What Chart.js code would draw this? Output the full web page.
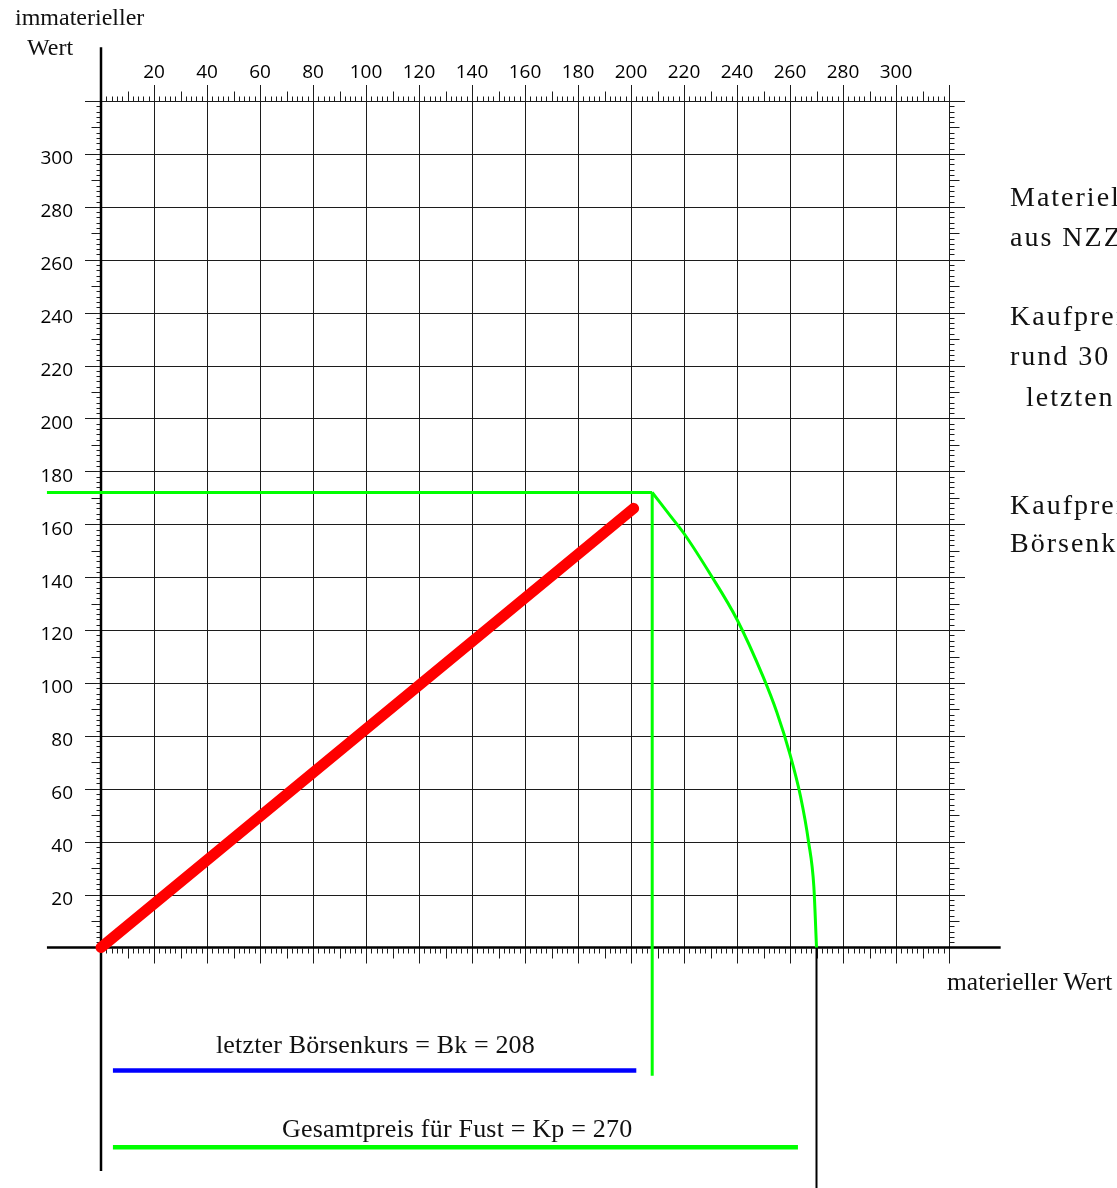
<!DOCTYPE html>
<html>
<head>
<meta charset="utf-8">
<script src="https://cdn.jsdelivr.net/npm/chart.js@4.4.1/dist/chart.umd.min.js"></script>
<style>
  html, body { margin: 0; padding: 0; background: #fff; overflow: hidden; }
  #wrap { position: relative; width: 1117px; height: 1188px; overflow: hidden; }
  #wrap canvas { position: absolute; left: 0; top: 0; }
  .t { position: absolute; font-family: "Liberation Serif", serif; color: #111; line-height: 1; white-space: nowrap; }
  .note { font-size: 28px; letter-spacing: 2px; }
</style>
</head>
<body>
<div id="wrap">
  <canvas id="chart" width="1117" height="1188"></canvas>

  <div class="t" style="left:15px; top:5px; font-size:24px">immaterieller</div>
  <div class="t" style="left:27px; top:35px; font-size:24px">Wert</div>
  <div class="t" style="left:947px; top:969px; font-size:25.5px">materieller Wert</div>

  <div class="t" style="left:216px; top:1032px; font-size:26px; letter-spacing:0.15px">letzter Börsenkurs = Bk = 208</div>
  <div class="t" style="left:282px; top:1116px; font-size:26px; letter-spacing:0.2px">Gesamtpreis für Fust = Kp = 270</div>

  <div class="t note" style="left:1010px; top:183px">Materieller Wert</div>
  <div class="t note" style="left:1010px; top:223px">aus NZZ</div>
  <div class="t note" style="left:1010px; top:302px">Kaufpreis liegt</div>
  <div class="t note" style="left:1010px; top:342px">rund 30 % über dem</div>
  <div class="t note" style="left:1026px; top:383px">letzten Börsenkurs</div>
  <div class="t note" style="left:1010px; top:491px">Kaufpreis = 1,3 ×</div>
  <div class="t note" style="left:1010px; top:529px">Börsenkurs</div>
</div>

<script>
// ---------------------------------------------------------------------
// Values (materieller Wert = x, immaterieller Wert = y)
// ---------------------------------------------------------------------
const xTickLabels = [20, 40, 60, 80, 100, 120, 140, 160, 180, 200, 220, 240, 260, 280, 300];
const yTickLabels = [20, 40, 60, 80, 100, 120, 140, 160, 180, 200, 220, 240, 260, 280, 300];
const gridValues = [20, 40, 60, 80, 100, 120, 140, 160, 180, 200, 220, 240, 260, 280, 300, 320];

// red diagonal
const redX = [0, 201];
const redY = [0, 166];

// green: horizontal at 172, drop at Bk = 208, arc down to Kp = 270
const levelX = [-20.4, 208];
const levelY = [172, 172];
const bkDropX = [208, 208];
const bkDropY = [172, -48.5];
const arcX = [208, 215, 220, 230, 240, 250, 255, 260, 264, 267, 269, 270];
const arcY = [172, 163, 156.5, 141, 124, 102, 89, 73, 57, 40, 23, 0];

// black drop at Kp = 270
const kpDropX = [270, 270];
const kpDropY = [0, -92];

// bars under the axis
const bkBarX = [4.5, 202];
const bkBarY = [-46.5, -46.5];
const kpBarX = [4.5, 263];
const kpBarY = [-75.5, -75.5];

const pts = (xs, ys) => xs.map((x, i) => ({ x: x, y: ys[i] }));

// ---------------------------------------------------------------------
// Grid, minor ticks and the two heavy axes
// ---------------------------------------------------------------------
const frame = {
  id: "frame",
  beforeDatasetsDraw(chart) {
    const { ctx, chartArea: a } = chart;
    const xs = chart.scales.x, ys = chart.scales.y;
    const px = (v) => Math.round(xs.getPixelForValue(v)) + 0.5;
    const py = (v) => Math.round(ys.getPixelForValue(v)) + 0.5;
    ctx.save();
    ctx.strokeStyle = "#1c1c1c";
    ctx.lineWidth = 1;

    ctx.beginPath();
    gridValues.forEach((v) => {
      ctx.moveTo(px(v), a.top - 16);
      ctx.lineTo(px(v), a.bottom + 16);
      ctx.moveTo(a.left - 16, py(v));
      ctx.lineTo(a.right + 16, py(v));
    });
    ctx.stroke();

    // small ticks every 2, longer every 10, all pointing outwards
    ctx.beginPath();
    const top = py(320), bot = py(0), left = px(0), right = px(320);
    for (let v = 2; v < 320; v += 2) {
      if (v % 20 === 0) continue;
      const len = v % 10 === 0 ? 10 : 5;
      const X = px(v), Y = py(v);
      ctx.moveTo(X, top); ctx.lineTo(X, top - len);
      ctx.moveTo(X, bot); ctx.lineTo(X, bot + len);
      ctx.moveTo(left, Y); ctx.lineTo(left - len, Y);
      ctx.moveTo(right, Y); ctx.lineTo(right + len, Y);
    }
    ctx.stroke();

    ctx.strokeStyle = "#000";
    ctx.lineWidth = 2.5;
    ctx.beginPath();
    ctx.moveTo(xs.getPixelForValue(0), ys.getPixelForValue(340.3));
    ctx.lineTo(xs.getPixelForValue(0), ys.getPixelForValue(-84.5));
    ctx.moveTo(xs.getPixelForValue(-20.4), ys.getPixelForValue(0));
    ctx.lineTo(xs.getPixelForValue(339.5), ys.getPixelForValue(0));
    ctx.stroke();
    ctx.restore();
  }
};

const tickFont = { family: "'Open Sans', sans-serif", size: 19 };

new Chart(document.getElementById("chart"), {
  type: "line",
  data: {
    datasets: [
      { data: pts(redX, redY), borderColor: "#ff0000", borderWidth: 11, borderCapStyle: "round" },
      { data: pts(levelX, levelY), borderColor: "#00ff00", borderWidth: 3 },
      { data: pts(bkDropX, bkDropY), borderColor: "#00ff00", borderWidth: 3 },
      { data: pts(arcX, arcY), borderColor: "#00ff00", borderWidth: 3, cubicInterpolationMode: "monotone" },
      { data: pts(kpDropX, kpDropY), borderColor: "#000", borderWidth: 2 },
      { data: pts(bkBarX, bkBarY), borderColor: "#0000ff", borderWidth: 4.5 },
      { data: pts(kpBarX, kpBarY), borderColor: "#00ff00", borderWidth: 4.5 }
    ].map((d) => Object.assign({ clip: false, fill: false, pointRadius: 0, tension: 0 }, d))
  },
  options: {
    responsive: false,
    animation: false,
    layout: { padding: { left: 0, top: 0, right: 168, bottom: 240.5 } },
    plugins: { legend: { display: false }, tooltip: { enabled: false } },
    scales: {
      x: {
        type: "linear",
        position: "top",
        min: 0,
        max: 320,
        grid: { display: false, drawTicks: false },
        border: { display: false },
        afterBuildTicks: (s) => { s.ticks = xTickLabels.map((v) => ({ value: v })); },
        afterFit: (s) => { s.height = 101; },
        ticks: { font: tickFont, color: "#000", padding: 17, maxRotation: 0, autoSkip: false }
      },
      y: {
        type: "linear",
        position: "left",
        min: 0,
        max: 320,
        grid: { display: false, drawTicks: false },
        border: { display: false },
        afterBuildTicks: (s) => { s.ticks = yTickLabels.map((v) => ({ value: v })); },
        afterFit: (s) => { s.width = 101; },
        ticks: { font: tickFont, color: "#000", padding: 28, labelOffset: 5, autoSkip: false }
      }
    }
  },
  plugins: [frame]
});
</script>
</body>
</html>
